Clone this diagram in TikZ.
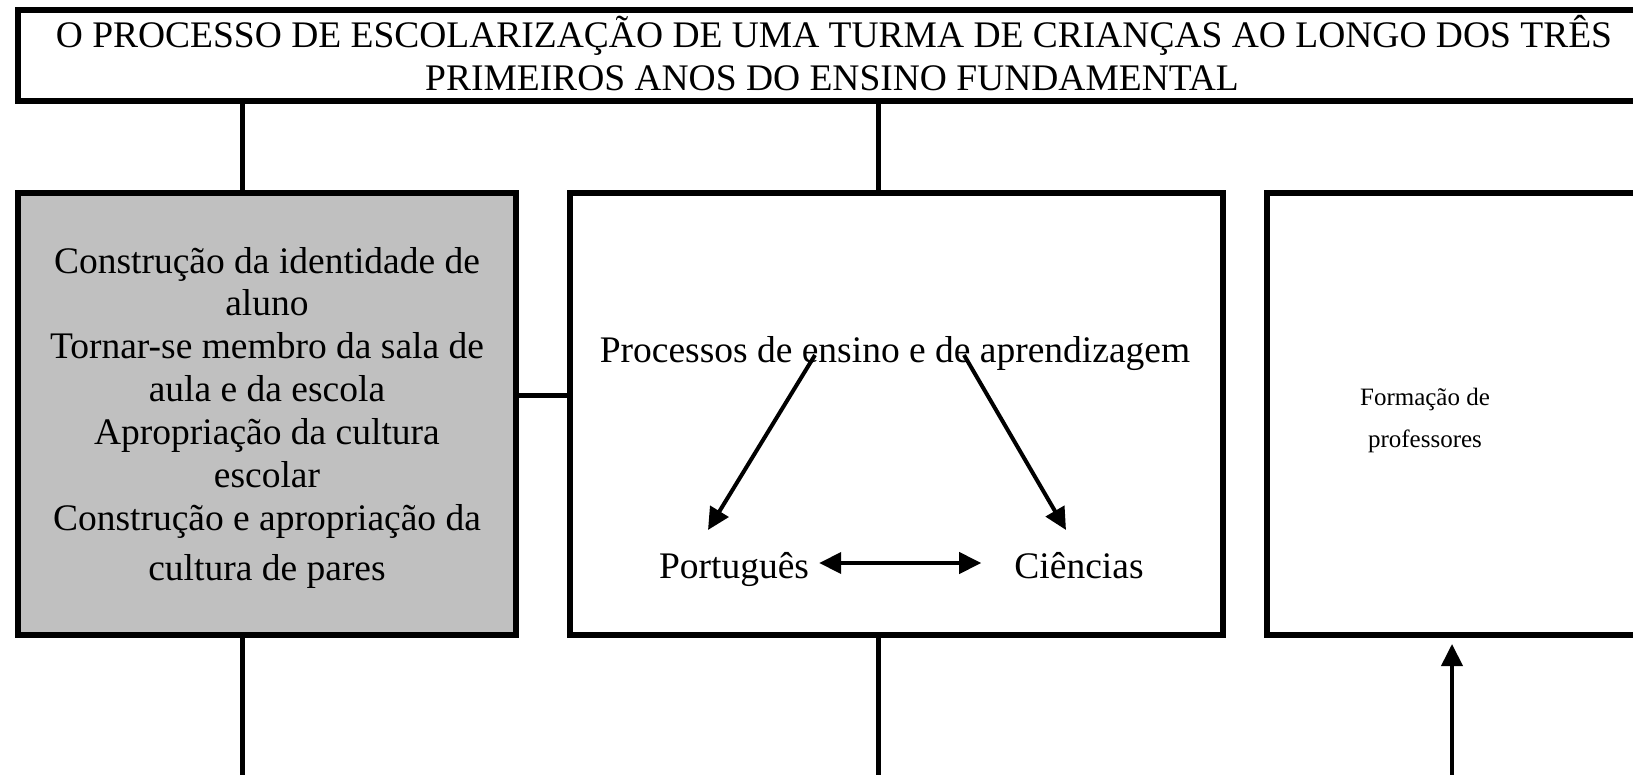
\documentclass[tikz,border=0pt]{standalone}
\usepackage{fontspec}
\setmainfont{Liberation Serif}
\usetikzlibrary{arrows.meta}
\begin{document}
\begin{tikzpicture}[x=1pt,y=-1pt,
  box/.style={draw=black, line width=6pt, rectangle, inner sep=0pt, minimum height=442pt},
  txt/.style={font=\fontsize{37.5}{43}\selectfont, inner sep=0pt, anchor=base},
  smalltxt/.style={font=\fontsize{25}{42}\selectfont, inner sep=0pt, anchor=base},
  conn/.style={line width=5pt},
  arr/.style={line width=4pt, -{Triangle[width=21pt,length=22pt]}},
  dbl/.style={line width=4pt, {Triangle[width=21pt,length=22pt]}-{Triangle[width=21pt,length=22pt]}}
]
\useasboundingbox (0,0) rectangle (1633,774);
\clip (0,0) rectangle (1633,774);
\fill[white] (0,0) rectangle (1633,774);

% boxes
\node[draw=black, line width=6pt, rectangle, inner sep=0pt, minimum width=1626pt, minimum height=91pt] (title) at (831,55.5) {};
\node[box, fill={rgb,255:red,192;green,192;blue,192}, minimum width=498pt] (leftbox) at (267,414) {};
\node[box, fill=white, minimum width=653pt] (midbox) at (896.5,414) {};
\node[box, fill=white, minimum width=420pt] (rightbox) at (1477,414) {};

% title text
\node[txt] (ttl1) at (834,47) {O PROCESSO DE ESCOLARIZAÇÃO DE UMA TURMA DE CRIANÇAS AO LONGO DOS TRÊS};
\node[txt] (ttl2) at (832,90) {PRIMEIROS ANOS DO ENSINO FUNDAMENTAL};

% left box text
\node[txt] (l1) at (267,273) {Construção da identidade de};
\node[txt] (l2) at (267,315) {aluno};
\node[txt] (l3) at (267,358) {Tornar-se membro da sala de};
\node[txt] (l4) at (267,401) {aula e da escola};
\node[txt] (l5) at (267,444) {Apropriação da cultura};
\node[txt] (l6) at (267,487) {escolar};
\node[txt] (l7) at (267,530) {Construção e apropriação da};
\node[txt] (l8) at (267,580) {cultura de pares};

% middle box text
\node[txt] (proc) at (895,362) {Processos de ensino e de aprendizagem};
\node[txt] (port) at (734,578) {Português};
\node[txt] (cien) at (1079,578) {Ciências};

% right box text
\node[smalltxt] (form1) at (1425,405) {Formação de};
\node[smalltxt] (form2) at (1425,447) {professores};

% helper coordinates
\coordinate (c1) at (242,0);
\coordinate (c2) at (878,0);
\coordinate (c3) at (1452,0);
\coordinate (cy) at (0,395);
\coordinate (bot) at (0,780);
\coordinate (dy) at (0,563);
\coordinate (a1s) at (815,355);
\coordinate (a1e) at (708,530);
\coordinate (a2s) at (964,355);
\coordinate (a2e) at (1066,530);

% connectors
\draw[conn] (title.south -| c1) -- (leftbox.north -| c1);
\draw[conn] (title.south -| c2) -- (midbox.north -| c2);
\draw[conn] (leftbox.east |- cy) -- (midbox.west |- cy);
\draw[conn] (leftbox.south -| c1) -- (c1 |- bot);
\draw[conn] (midbox.south -| c2) -- (c2 |- bot);
\draw[arr] (c3 |- bot) -- ([yshift=-6pt]rightbox.south -| c3);

% arrows in middle box
\draw[arr] (a1s) -- (a1e);
\draw[arr] (a2s) -- (a2e);
\draw[dbl] ([xshift=10pt]port.east |- dy) -- ([xshift=-33pt]cien.west |- dy);
\end{tikzpicture}
\end{document}
